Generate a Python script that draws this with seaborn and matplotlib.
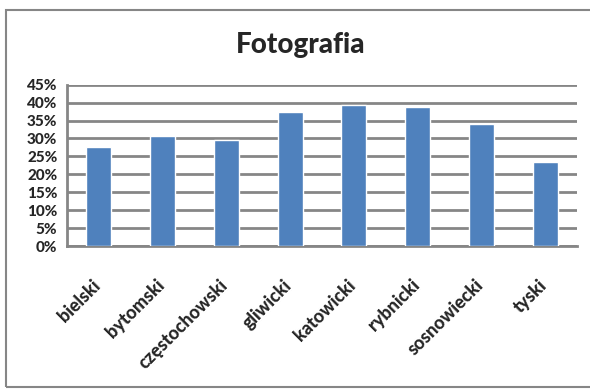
import seaborn as sns
import pandas as pd
import matplotlib.pyplot as plt
from matplotlib.ticker import PercentFormatter, MultipleLocator
from matplotlib.patches import Rectangle
from matplotlib.transforms import ScaledTranslation

# dane
kategorie = ["bielski", "bytomski", "częstochowski", "gliwicki",
             "katowicki", "rybnicki", "sosnowiecki", "tyski"]
wartosci = [0.275, 0.308, 0.297, 0.375, 0.394, 0.387, 0.339, 0.233]

df = pd.DataFrame({"powiat": kategorie, "udzial": wartosci})

sns.set_style("white")
plt.rcParams['font.family'] = ['Lato', 'DejaVu Sans']

fig = plt.figure(figsize=(5.9, 3.89), dpi=100)
ax = fig.add_axes([0.1136, 0.3676, 0.8644, 0.4147])

sns.barplot(data=df, x="powiat", y="udzial", color="#4f81bd", width=0.39,
            saturation=1, ax=ax, zorder=3)

ax.set_ylim(0, 0.45)
ax.set_xlim(-0.5, len(kategorie) - 0.5)
ax.yaxis.set_major_locator(MultipleLocator(0.05))
ax.yaxis.set_major_formatter(PercentFormatter(1.0, decimals=0))
ax.grid(axis="y", color="#868686", linewidth=2, zorder=0)
ax.set_axisbelow(True)

for s in ["top", "right"]:
    ax.spines[s].set_visible(False)
for s in ["left", "bottom"]:
    ax.spines[s].set_color("#868686")
    ax.spines[s].set_linewidth(2)

# ticks na granicach kategorii
ax.set_xticks([i - 0.5 for i in range(len(kategorie) + 1)], minor=True)
ax.tick_params(axis="x", which="minor", length=5, width=1.5, color="#868686")
ax.tick_params(axis="x", which="major", length=0, pad=22)
ax.tick_params(axis="y", length=5, width=1.5, color="#868686", pad=2)
ax.set_xticks(range(len(kategorie)))
ax.set_xticklabels(kategorie, rotation=45, ha="right", rotation_mode="anchor",
                   fontsize=13, fontweight="black")
przes = ScaledTranslation(-7 / 100, 0, fig.dpi_scale_trans)
for lab in ax.get_xticklabels():
    lab.set_transform(lab.get_transform() + przes)
for lab in ax.get_yticklabels():
    lab.set_fontweight("black")
    lab.set_fontsize(11)

ax.set_xlabel("")
ax.set_ylabel("")

fig.text(0.51, 0.885, "Fotografia", ha="center", va="center",
         fontsize=20, fontweight="black")

# ramka wykresu
fig.patches.append(Rectangle((0.010, 0.005), 1.2, 0.969, transform=fig.transFigure,
                             fill=False, edgecolor="#868686", linewidth=1.5))

plt.savefig("out.png", dpi=100)
